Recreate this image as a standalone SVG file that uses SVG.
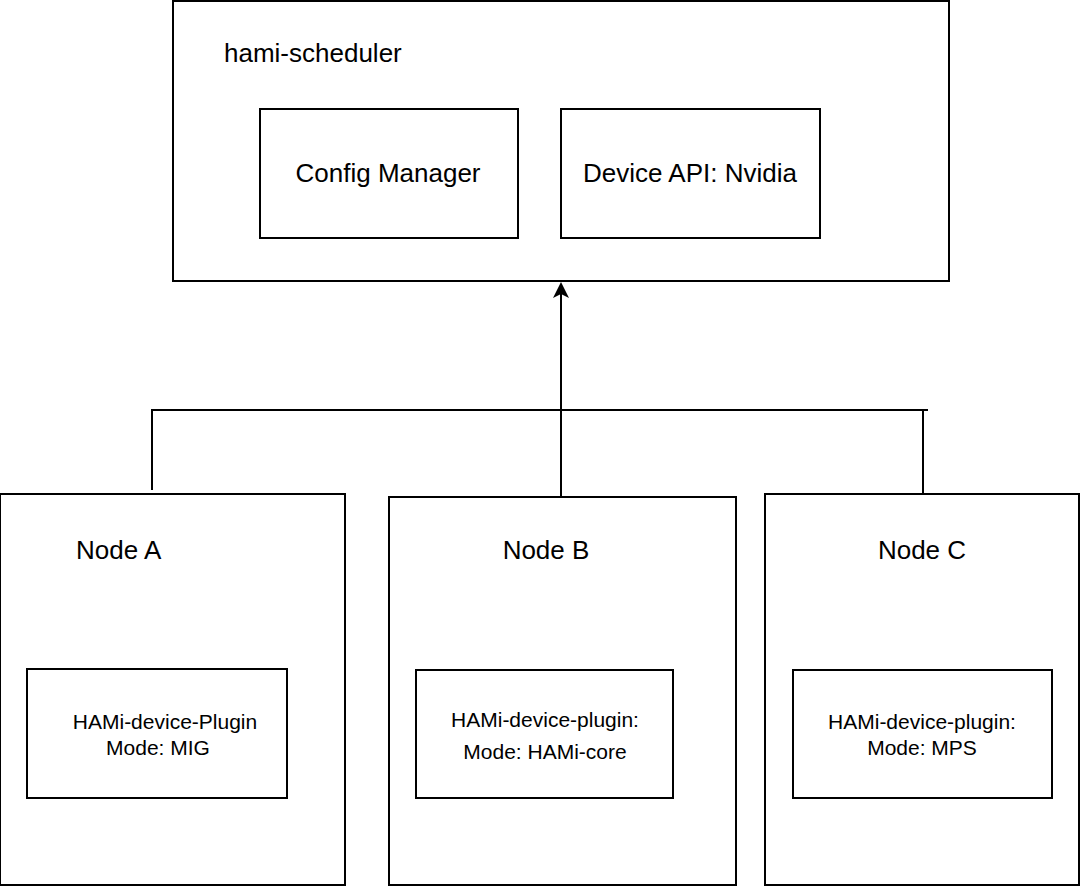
<svg xmlns="http://www.w3.org/2000/svg" width="1080" height="886" viewBox="0 0 1080 886">
<style>
rect{fill:#fff;stroke:#000;stroke-width:2}
text{font-family:"Liberation Sans",Arial,sans-serif;fill:#000}
.big{font-size:26px}
.sm{font-size:21px}
.c{text-anchor:middle}
</style>
<defs><marker id="ah" markerWidth="16" markerHeight="16" refX="8" refY="8" orient="auto" markerUnits="userSpaceOnUse"><path d="M0,0 L16,8 L0,16 L4,8 Z" fill="#000"/></marker></defs>
<rect width="1080" height="886" style="stroke:none"/>
<g id="scheduler"><rect x="173" y="1" width="776" height="280"/><text class="big" x="224" y="62">hami-scheduler</text></g>
<g id="config"><rect x="260" y="109" width="258" height="129"/><text class="big c" x="388" y="182">Config Manager</text></g>
<g id="deviceapi"><rect x="561" y="109" width="259" height="129"/><text class="big c" x="690" y="182">Device API: Nvidia</text></g>
<g id="connectors" fill="none" stroke="#000" stroke-width="2">
<path d="M152,490 V410 H928"/>
<path d="M923,410 V495"/>
<path d="M561,497 V290" marker-end="url(#ah)"/>
</g>
<g id="nodeA"><rect x="0" y="494" width="345" height="391"/><text class="big" x="76" y="559">Node A</text></g>
<g id="pluginA"><rect x="27" y="669" width="260" height="129"/><text class="sm c" x="165" y="729">HAMi-device-Plugin</text><text class="sm c" x="158" y="755">Mode: MIG</text></g>
<g id="nodeB"><rect x="389" y="497" width="347" height="388"/><text class="big c" x="546" y="559">Node B</text></g>
<g id="pluginB"><rect x="416" y="670" width="257" height="128"/><text class="sm c" x="545" y="727">HAMi-device-plugin:</text><text class="sm c" x="545" y="759">Mode: HAMi-core</text></g>
<g id="nodeC"><rect x="765" y="494" width="314" height="391"/><text class="big c" x="922" y="559">Node C</text></g>
<g id="pluginC"><rect x="793" y="670" width="259" height="128"/><text class="sm c" x="922" y="729">HAMi-device-plugin:</text><text class="sm c" x="922" y="755">Mode: MPS</text></g>
</svg>
